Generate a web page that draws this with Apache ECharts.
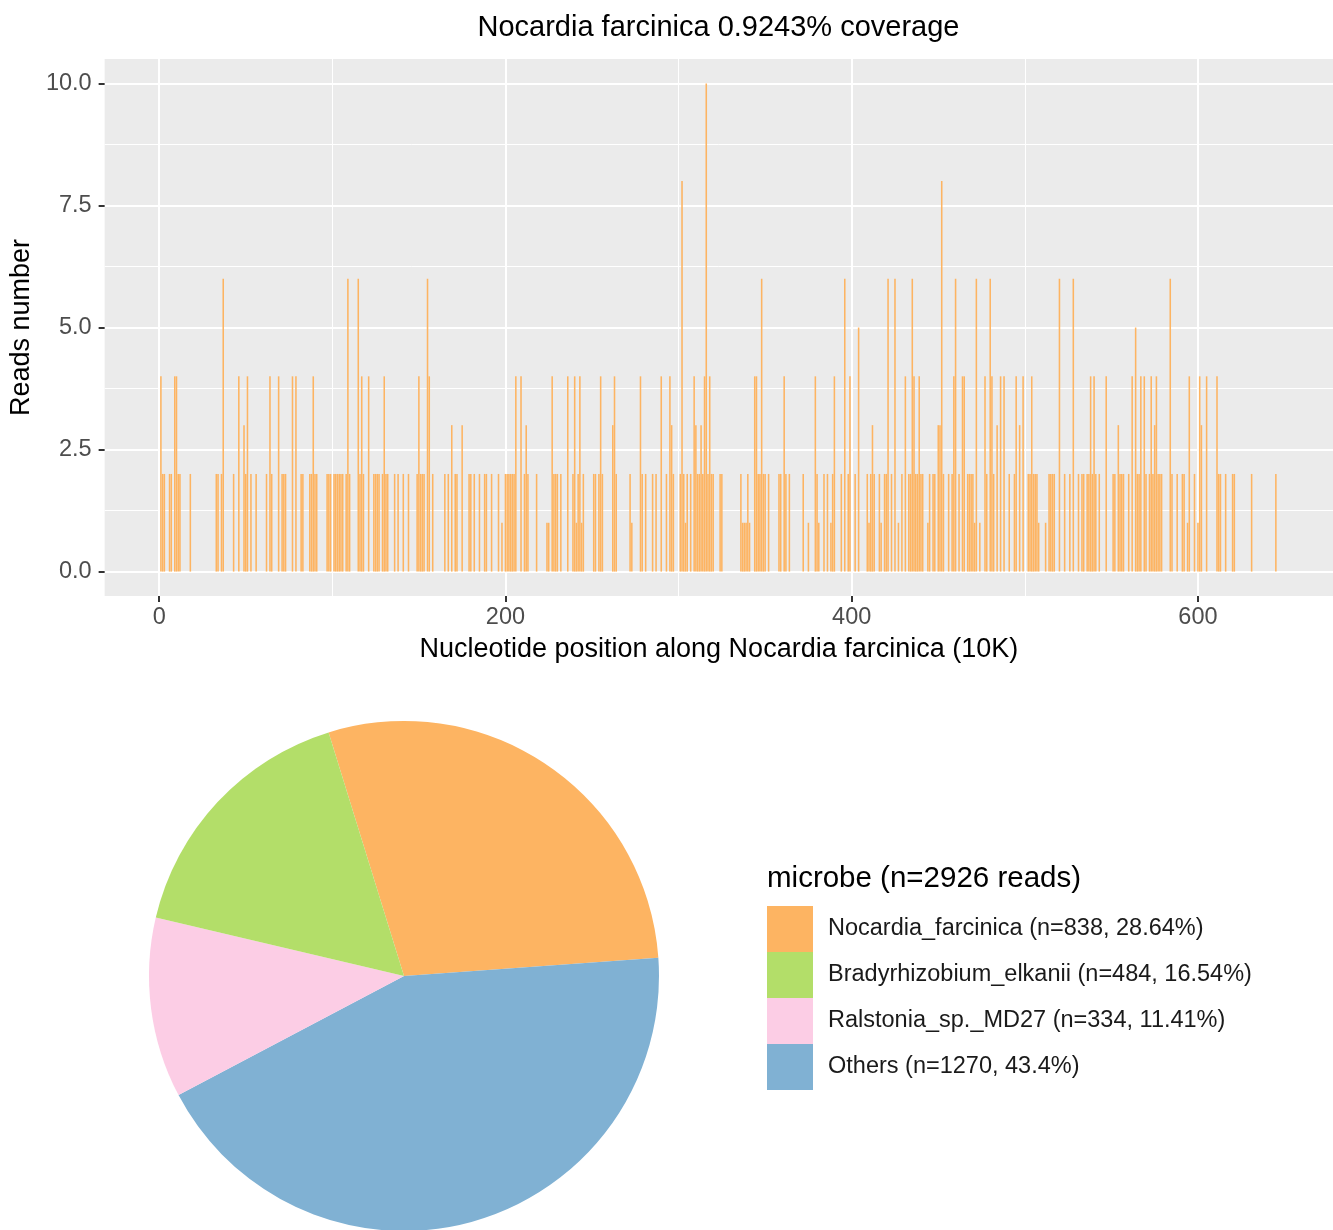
<!DOCTYPE html>
<html><head><meta charset="utf-8">
<script src="https://cdn.jsdelivr.net/npm/echarts@6/dist/echarts.min.js"></script>
<style>html,body{margin:0;padding:0;background:#fff}#c{width:1333px;height:1230px}</style>
</head><body><div id="c"></div>
<script>
// [bin position (10K), reads number]
const readsByBin = [
[1,4],[2,2],[3,2],[6,2],[7,2],[9,4],[10,4],[11,2],[12,2],[18,2],[33,2],[34,2],[36,2],[37,6],[43,2],[46,4],[49,3],[50,2],[51,4],[53,2],[56,2],[62,2],[64,4],[65,2],[69,4],[71,2],[72,2],[73,2],[77,4],[79,4],[82,2],[83,2],
[87,2],[88,2],[89,4],[90,2],[91,2],[97,2],[98,2],[99,2],[101,2],[102,2],[103,2],[104,2],[105,2],[106,2],[108,2],[109,6],[110,2],[115,6],[116,2],[117,4],[118,2],[121,4],[124,2],[125,2],[126,2],[127,2],[129,2],[130,4],[131,2],[132,2],[136,2],[138,2],[141,2],[144,2],[149,2],[150,4],[151,2],[152,2],[153,2],[155,6],[156,4],[158,2],[165,2],[167,2],[169,3],[171,2],[172,2],[175,3],[179,2],[180,2],[182,2],[185,2],[188,2],[189,2],[192,2],[196,2],[198,1],[200,2],[201,2],[202,2],[203,2],
[204,2],[205,2],[206,4],[209,4],[211,2],[212,3],[213,2],[218,2],[224,1],[225,1],[227,4],[228,2],[229,2],[230,2],[232,2],[236,4],[239,2],[240,4],[241,1],[242,2],[243,4],[244,1],[245,2],[251,2],[252,2],[254,2],[255,4],[256,2],[262,3],[263,4],[264,2],[272,2],[273,1],[278,4],[279,2],[281,2],[285,2],[287,2],[290,4],[293,2],[295,4],[296,3],[297,2],[301,2],[302,8],[303,2],[304,1],[305,2],[307,2],[309,4],[310,3],[311,2],[312,2],[313,3],[314,2],[315,4],[316,10],[317,2],[318,4],[319,2],[320,2],
[324,2],[325,2],[336,2],[337,1],[338,1],[339,1],[340,2],[341,1],[344,4],[345,4],[346,2],[347,2],[348,6],[349,2],[350,2],[352,2],[358,2],[359,2],[361,4],[362,2],[364,2],[372,2],[375,1],[379,4],[380,2],[381,1],[384,2],[386,2],[388,1],[389,2],[390,4],[394,2],[396,6],[398,2],[399,4],[402,2],[404,5],[409,2],[410,1],[411,2],[412,3],[413,2],[416,2],[417,1],[419,2],[420,2],[421,6],[423,2],[425,6],[427,1],[429,2],[431,4],
[433,2],[434,2],[435,6],[436,4],[437,2],[438,2],[439,4],[440,2],[441,2],[444,1],[445,2],[447,2],[448,2],[450,3],[451,3],[452,8],[453,2],[456,2],[458,2],[459,4],[460,6],[462,2],[464,4],[465,4],[467,2],[468,2],[469,2],[470,2],[471,1],[472,6],[474,1],[477,4],[478,2],[480,6],[481,4],[482,2],[484,3],[486,4],[488,4],[491,2],[494,2],[495,4],[497,3],[499,4],[502,2],[503,2],[504,4],[505,2],[506,2],[507,2],[508,1],[512,1],[514,2],[515,2],[516,2],[517,2],[520,6],[523,2],[526,2],[528,6],[531,2],[533,2],[534,2],[536,2],[537,2],[538,4],[539,2],[540,4],[541,2],[543,2],[547,4],
[551,2],[552,2],[554,3],[555,2],[556,2],[557,2],[560,2],[562,4],[564,5],[565,2],[566,2],[567,4],[569,4],[570,2],[572,2],[573,4],[574,2],[575,3],[576,4],[577,2],[578,2],[579,2],[584,6],[585,2],[588,2],[591,2],[592,2],[594,1],[595,4],[598,2],[600,1],[601,4],[602,3],[605,4],[611,4],[612,2],[613,2],[616,2],[620,2],[621,2],[631,2],[645,2]
];
const xTicks = [0, 200, 400, 600];
const xMinorTicks = [100, 300, 500];
const yTicks = [0, 2.5, 5, 7.5, 10];
const yMinorTicks = [1.25, 3.75, 6.25, 8.75];

const microbes = ['Nocardia_farcinica', 'Bradyrhizobium_elkanii', 'Ralstonia_sp._MD27', 'Others'];
const readCounts = [838, 484, 334, 1270];
const readPercents = ['28.64', '16.54', '11.41', '43.4'];
const totalReads = 2926;
const pieOrder = ['Nocardia_farcinica', 'Others', 'Ralstonia_sp._MD27', 'Bradyrhizobium_elkanii'];
const microbeColors = ['#FDB462', '#B3DE69', '#FCCDE5', '#80B1D3'];

const FONT = "'Liberation Sans', Arial, Helvetica, sans-serif";
const X_MIN = -31.5, X_MAX = 678, Y_MIN = -0.5, Y_MAX = 10.5;

const chart = echarts.init(document.getElementById('c'), null, {renderer: 'canvas'});

const colorOf = name => microbeColors[microbes.indexOf(name)];
const labelOf = name => {
  const i = microbes.indexOf(name);
  return `${name} (n=${readCounts[i]}, ${readPercents[i]}%)`;
};

const option = {
  animation: false,
  backgroundColor: '#ffffff',
  textStyle: {fontFamily: FONT},
  grid: [{
    left: 104, right: 0, top: 59, height: 537,
    show: true, backgroundColor: '#EBEBEB', borderWidth: 0, containLabel: false
  }],
  xAxis: [{
    type: 'value', gridIndex: 0, min: X_MIN, max: X_MAX, position: 'bottom',
    axisLine: {show: false, onZero: false},
    axisTick: {show: true, customValues: xTicks, length: 6, lineStyle: {color: '#333333', width: 2}},
    axisLabel: {show: true, customValues: xTicks, margin: 10, fontSize: 23.5, color: '#4D4D4D', fontFamily: FONT},
    splitLine: {show: true, lineStyle: {color: '#FFFFFF', width: 2}},
    name: 'Nucleotide position along Nocardia farcinica (10K)',
    nameLocation: 'middle', nameGap: 40,
    nameTextStyle: {fontSize: 27, color: '#000000', fontFamily: FONT}
  }, {
    type: 'value', gridIndex: 0, min: X_MIN, max: X_MAX, position: 'bottom',
    axisLine: {show: false, onZero: false},
    axisTick: {show: false, customValues: xMinorTicks},
    axisLabel: {show: false, customValues: xMinorTicks},
    splitLine: {show: true, lineStyle: {color: '#FFFFFF', width: 1}}
  }],
  yAxis: [{
    type: 'value', gridIndex: 0, min: Y_MIN, max: Y_MAX, position: 'left',
    axisLine: {show: false, onZero: false},
    axisTick: {show: true, customValues: yTicks, length: 6, lineStyle: {color: '#333333', width: 2}},
    axisLabel: {show: true, customValues: yTicks, margin: 13, fontSize: 23.5, color: '#4D4D4D', fontFamily: FONT,
      formatter: v => Number(v).toFixed(1)},
    splitLine: {show: true, lineStyle: {color: '#FFFFFF', width: 2}},
    name: 'Reads number', nameLocation: 'middle', nameGap: 68, nameRotate: 90,
    nameTextStyle: {fontSize: 27, color: '#000000', fontFamily: FONT}
  }, {
    type: 'value', gridIndex: 0, min: Y_MIN, max: Y_MAX, position: 'left',
    axisLine: {show: false, onZero: false},
    axisTick: {show: false, customValues: yMinorTicks},
    axisLabel: {show: false, customValues: yMinorTicks},
    splitLine: {show: true, lineStyle: {color: '#FFFFFF', width: 1}}
  }],
  legend: {
    orient: 'vertical', left: 767, top: 906, padding: 0,
    itemWidth: 46, itemHeight: 46, itemGap: 0, icon: 'rect',
    data: microbes,
    formatter: labelOf,
    textStyle: {fontSize: 23.5, color: '#1A1A1A', fontFamily: FONT, padding: [0, 0, 0, 10]},
    selectedMode: false
  },
  graphic: [{
    type: 'text', x: 718.5, y: 28,
    style: {text: 'Nocardia farcinica 0.9243% coverage', fill: '#000', font: `29px ${FONT}`,
      textAlign: 'center', textVerticalAlign: 'middle'}
  }, {
    type: 'text', x: 767, y: 879,
    style: {text: `microbe (n=${totalReads} reads)`, fill: '#000', font: `29.5px ${FONT}`,
      textAlign: 'left', textVerticalAlign: 'middle'}
  }],
  series: [{
    type: 'custom',
    xAxisIndex: 0, yAxisIndex: 0,
    data: readsByBin,
    encode: {x: 0, y: 1},
    clip: true,
    renderItem: (params, api) => {
      const x = api.value(0), v = api.value(1);
      const p0 = api.coord([x - 0.45, v]);
      const p1 = api.coord([x + 0.45, 0]);
      return {
        type: 'rect',
        shape: {x: p0[0], y: p0[1], width: p1[0] - p0[0], height: p1[1] - p0[1]},
        style: {fill: '#FDB462'}
      };
    }
  }, {
    type: 'pie',
    center: [404, 976], radius: 255,
    startAngle: 107.2, clockwise: true,
    label: {show: false}, labelLine: {show: false},
    emphasis: {disabled: true},
    itemStyle: {borderWidth: 0},
    data: pieOrder.map(n => ({name: n, value: readCounts[microbes.indexOf(n)], itemStyle: {color: colorOf(n)}}))
  }]
};
chart.setOption(option);
</script>
</body></html>
